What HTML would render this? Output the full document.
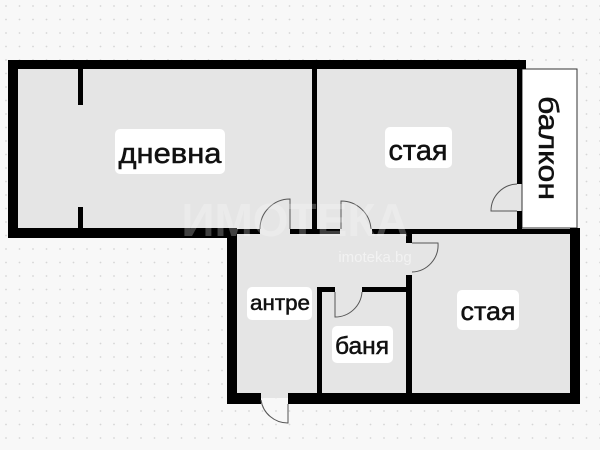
<!DOCTYPE html>
<html><head><meta charset="utf-8"><style>
html,body{margin:0;padding:0;width:600px;height:450px;overflow:hidden;background:#f8f8f8}
svg{display:block}
text{font-family:"Liberation Sans",sans-serif;fill:#111}
.l{stroke:#111;stroke-width:0.5}
</style></head><body>
<svg width="600" height="450" viewBox="0 0 600 450" xmlns="http://www.w3.org/2000/svg">
<defs>
<pattern id="d" width="13.5" height="13.5" patternUnits="userSpaceOnUse">
<circle cx="6" cy="6" r="0.9" fill="#d6d6d6"/>
</pattern>
</defs>
<rect width="600" height="450" fill="#f8f8f8"/>
<rect width="600" height="450" fill="url(#d)"/>
<rect x="13" y="64" width="510" height="169" fill="#e5e5e5"/>
<rect x="232" y="231" width="343" height="167" fill="#e5e5e5"/>
<rect x="522" y="69" width="55" height="159" fill="#fff" stroke="#333" stroke-width="1"/>
<g fill="#000">
<rect x="8" y="60" width="518" height="9"/>
<rect x="8" y="60" width="10" height="178"/>
<rect x="8" y="228" width="229" height="10"/>
<rect x="227" y="228" width="10" height="176"/>
<rect x="227" y="393" width="34" height="11"/>
<rect x="288" y="393" width="292" height="11"/>
<rect x="570" y="228" width="10" height="176"/>
<rect x="78" y="69" width="5" height="36"/>
<rect x="78" y="207" width="5" height="22"/>
<rect x="312" y="69" width="5" height="165"/>
<rect x="517" y="60" width="5" height="124"/>
<rect x="517" y="211" width="5" height="20"/>
<rect x="237" y="229" width="23" height="5"/>
<rect x="290" y="229" width="50" height="5"/>
<rect x="372" y="229" width="205" height="5"/>
<rect x="406" y="229" width="6" height="14"/>
<rect x="406" y="275" width="6" height="120"/>
<rect x="317" y="287" width="18" height="5"/>
<rect x="362" y="287" width="47" height="5"/>
<rect x="317" y="287" width="5" height="108"/>
</g>
<g fill="none" stroke="#555" stroke-width="1">
<path d="M290 229 L290 199 A30 30 0 0 0 260 229"/>
<path d="M341 229 L341 201 A30 30 0 0 1 371 229"/>
<path d="M412 243 L438 243 A27 27 0 0 1 412 272"/>
<path d="M517 184 A27 27 0 0 0 491 211 L517 211"/>
<path d="M335 292 L335 317 A27 27 0 0 0 362 292"/>
<path d="M288 404 L288 423 A27 27 0 0 1 261 400"/>
</g>
<text x="295" y="236" font-size="46" font-weight="bold" text-anchor="middle" style="fill:#fff" fill-opacity="0.25">ИМОТЕКА</text>
<text x="375" y="262" font-size="15" text-anchor="middle" style="fill:#fff" fill-opacity="0.5">imoteka.bg</text>
<g fill="#fff">
<rect x="115" y="129" width="110" height="45" rx="5"/>
<rect x="385" y="127" width="67" height="41" rx="5"/>
<rect x="247" y="287" width="65" height="33" rx="5"/>
<rect x="332" y="326" width="61" height="37" rx="5"/>
<rect x="457" y="290" width="62" height="40" rx="5"/>
</g>
<text class="l" x="170" y="163" font-size="29" text-anchor="middle" textLength="103" lengthAdjust="spacingAndGlyphs">дневна</text>
<text class="l" x="418" y="160" font-size="29" text-anchor="middle" textLength="59" lengthAdjust="spacingAndGlyphs">стая</text>
<text class="l" x="280" y="310" font-size="21" text-anchor="middle" textLength="60" lengthAdjust="spacingAndGlyphs">антре</text>
<text class="l" x="362" y="354" font-size="24" text-anchor="middle" textLength="54" lengthAdjust="spacingAndGlyphs">баня</text>
<text class="l" x="488" y="320" font-size="26" text-anchor="middle" textLength="55" lengthAdjust="spacingAndGlyphs">стая</text>
<text class="l" x="0" y="0" font-size="28" text-anchor="middle" transform="translate(539,148) rotate(90)" textLength="104" lengthAdjust="spacingAndGlyphs">балкон</text>
</svg>
</body></html>
